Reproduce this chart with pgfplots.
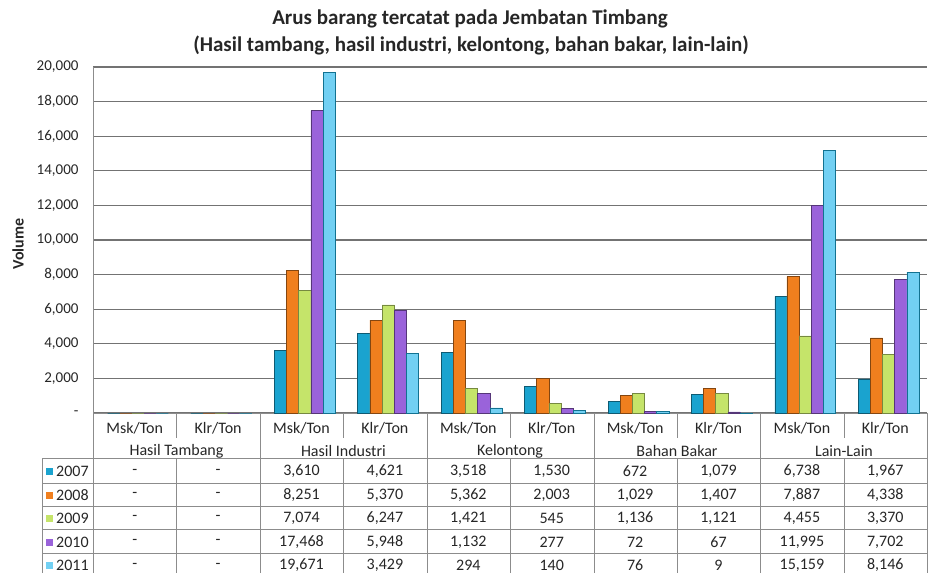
\documentclass[border=0pt]{standalone}
\usepackage{pgfplots}
\pgfplotsset{compat=1.18}
\usepackage{pgfplotstable}
\usepackage{fontspec}
\setmainfont{Carlito}
\definecolor{c07}{HTML}{1AA3CF}
\definecolor{c08}{HTML}{F07F1E}
\definecolor{c09}{HTML}{C5E46A}
\definecolor{c10}{HTML}{9A63DA}
\definecolor{c11}{HTML}{72D0F3}
\definecolor{txt}{HTML}{262626}
\definecolor{tline}{HTML}{8C8C8C}

\pgfplotstableread{
x y
0.5 0
1.5 0
2.5 3610
3.5 4621
4.5 3518
5.5 1530
6.5 672
7.5 1079
8.5 6738
9.5 1967
}\tA
\pgfplotstableread{
x y
0.5 0
1.5 0
2.5 8251
3.5 5370
4.5 5362
5.5 2003
6.5 1029
7.5 1407
8.5 7887
9.5 4338
}\tB
\pgfplotstableread{
x y
0.5 0
1.5 0
2.5 7074
3.5 6247
4.5 1421
5.5 545
6.5 1136
7.5 1121
8.5 4455
9.5 3370
}\tC
\pgfplotstableread{
x y
0.5 0
1.5 0
2.5 17468
3.5 5948
4.5 1132
5.5 277
6.5 72
7.5 67
8.5 11995
9.5 7702
}\tD
\pgfplotstableread{
x y
0.5 0
1.5 0
2.5 19671
3.5 3429
4.5 294
5.5 140
6.5 76
7.5 9
8.5 15159
9.5 8146
}\tE

\begin{document}
\begin{tikzpicture}
\path[use as bounding box] (0,0) rectangle (928pt,573pt);
\begin{axis}[
 at={(93pt,160pt)}, anchor=south west,
 scale only axis, width=834pt, height=346pt,
 xmin=0, xmax=10, ymin=0, ymax=20000,
 ybar, bar width=0.146,
 xtick=\empty,
 ytick={0,2000,...,20000},
 scaled y ticks=false,
 yticklabels={{-},{2,000},{4,000},{6,000},{8,000},{10,000},{12,000},{14,000},{16,000},{18,000},{20,000}},
 major tick length=0pt,
 ymajorgrids, grid style={color=black!55, line width=1.1pt},
 axis x line*=bottom, axis y line*=left,
 axis line style={tline, line width=1pt, -},
 yticklabel style={font=\fontsize{15}{15}\selectfont, text=txt, xshift=-11pt},
 clip=false,
 /pgf/number format/assume math mode=true,
]
\addplot[fill=c07, draw=c07!55!black, line width=0.6pt, bar shift=-0.252] table {\tA};
\addplot[fill=c08, draw=c08!55!black, line width=0.6pt, bar shift=-0.106] table {\tB};
\addplot[fill=c09, draw=c09!60!black, line width=0.6pt, bar shift=0.04] table {\tC};
\addplot[fill=c10, draw=c10!55!black, line width=0.6pt, bar shift=0.186] table {\tD};
\addplot[fill=c11, draw=c07!70!black, line width=0.6pt, bar shift=0.332] table {\tE};
\end{axis}

\begin{scope}[x=1pt,y=-1pt,yshift=573pt]
\node[font=\bfseries\fontsize{21}{21}\selectfont, text=txt] at (470,19) {Arus barang tercatat pada Jembatan Timbang};
\node[font=\bfseries\fontsize{21}{21}\selectfont, text=txt] at (471,45) {(Hasil tambang, hasil industri, kelontong, bahan bakar, lain-lain)};
\node[rotate=90, font=\bfseries\fontsize{16}{16}\selectfont, text=txt] at (18,244) {Volume};

\begin{scope}[draw=tline, line width=1pt]
\draw (93,413) -- (93,573);
\foreach \x in {260,427,594,760,927} \draw (\x,413) -- (\x,573);
\foreach \x in {176.5,343.4,510,677,844} {\draw (\x,413) -- (\x,438); \draw (\x,458) -- (\x,573);}
\foreach \y in {458,483,506,529.5,553} \draw (42,\y) -- (927,\y);
\draw (42,458) -- (42,573);
\end{scope}

\begin{scope}[font=\fontsize{16}{16}\selectfont, text=txt]
\foreach \i in {0,2,4,6,8} \node at ({134.7+83.4*\i},428) {Msk/Ton};
\foreach \i in {1,3,5,7,9} \node at ({134.7+83.4*\i},428) {Klr/Ton};
\node at (176.5,451) {Hasil Tambang};
\node at (343.4,451) {Hasil Industri};
\node at (510,451) {Kelontong};
\node at (677,451) {Bahan Bakar};
\node at (844,451) {Lain-Lain};

\fill[c07] (46,468) rectangle (53,475);
\fill[c08] (46,491.5) rectangle (53,498.5);
\fill[c09] (46,514.5) rectangle (53,521.5);
\fill[c10] (46,538.5) rectangle (53,545.5);
\fill[c11] (46,562) rectangle (53,569);
\node[anchor=west, inner sep=0pt] at (56,471.5) {2007};
\node[anchor=west, inner sep=0pt] at (56,495) {2008};
\node[anchor=west, inner sep=0pt] at (56,518) {2009};
\node[anchor=west, inner sep=0pt] at (56,542) {2010};
\node[anchor=west, inner sep=0pt] at (56,565.5) {2011};

\foreach \v [count=\i from 0] in {{-},{-},{3,610},{4,621},{3,518},{1,530},{672},{1,079},{6,738},{1,967}}
  \node at ({134.7+83.4*\i},471.5) {\v};
\foreach \v [count=\i from 0] in {{-},{-},{8,251},{5,370},{5,362},{2,003},{1,029},{1,407},{7,887},{4,338}}
  \node at ({134.7+83.4*\i},495) {\v};
\foreach \v [count=\i from 0] in {{-},{-},{7,074},{6,247},{1,421},{545},{1,136},{1,121},{4,455},{3,370}}
  \node at ({134.7+83.4*\i},518) {\v};
\foreach \v [count=\i from 0] in {{-},{-},{17,468},{5,948},{1,132},{277},{72},{67},{11,995},{7,702}}
  \node at ({134.7+83.4*\i},542) {\v};
\foreach \v [count=\i from 0] in {{-},{-},{19,671},{3,429},{294},{140},{76},{9},{15,159},{8,146}}
  \node at ({134.7+83.4*\i},565.5) {\v};
\end{scope}
\end{scope}
\end{tikzpicture}
\end{document}
